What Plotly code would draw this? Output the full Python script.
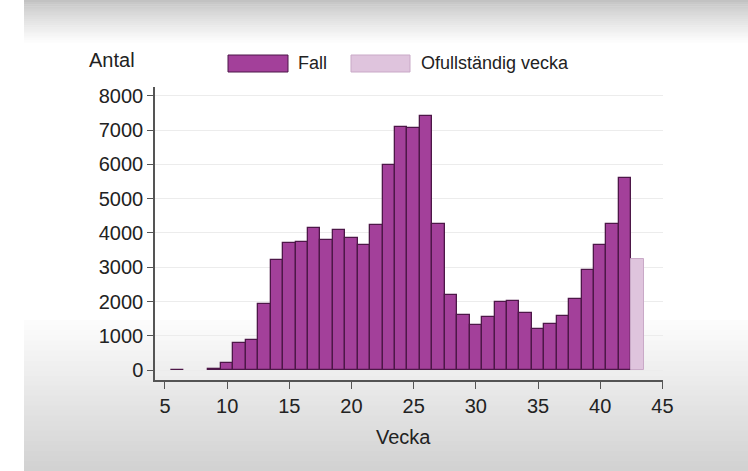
import plotly.graph_objects as go

# ---- data ----
weeks = [6, 9, 10, 11, 12, 13, 14, 15, 16, 17, 18, 19, 20, 21, 22, 23, 24, 25, 26,
         27, 28, 29, 30, 31, 32, 33, 34, 35, 36, 37, 38, 39, 40, 41, 42]
cases = [10, 20, 200, 800, 870, 1920, 3200, 3700, 3730, 4150, 3800, 4100, 3850, 3640,
         4240, 5980, 7100, 7050, 7420, 4250, 2180, 1600, 1320, 1540, 1990, 2030, 1660,
         1190, 1330, 1570, 2070, 2910, 3640, 4270, 5610]
incomplete_week = [43]
incomplete_cases = [3250]

y_ticks = [0, 1000, 2000, 3000, 4000, 5000, 6000, 7000, 8000]
x_ticks = [5, 10, 15, 20, 25, 30, 35, 40, 45]

FALL_FILL = "#a3409a"
FALL_LINE = "#4d1748"
INC_FILL = "#dfc4dd"
INC_LINE = "#c9a9c7"
FONT = "Liberation Sans, Arial, sans-serif"

W, H = 748, 471
L, R, T, B = 155, 663, 87, 380  # plot area in pixels


def px(x):
    return (x - L) / (R - L)


def py(y):
    return (B - y) / (B - T)


fig = go.Figure()
fig.add_trace(go.Bar(
    x=weeks, y=cases, width=1, name="Fall",
    marker=dict(color=FALL_FILL, line=dict(color=FALL_LINE, width=1.3)),
    showlegend=False,
))
fig.add_trace(go.Bar(
    x=incomplete_week, y=incomplete_cases, width=1, name="Ofullständig vecka",
    marker=dict(color=INC_FILL, line=dict(color=INC_LINE, width=1)),
    showlegend=False,
))

shapes = []


def mix(c1, c2, t):
    a = [int(c1[i:i + 2], 16) for i in (1, 3, 5)]
    b = [int(c2[i:i + 2], 16) for i in (1, 3, 5)]
    return "#%02x%02x%02x" % tuple(round(a[k] + (b[k] - a[k]) * t) for k in range(3))


# background gradient of the screenshot frame (white strip on the far left)
XL = 24
n = 20
for i in range(n):
    y0 = i * 42 / n
    y1 = (i + 1) * 42 / n + 0.5
    shapes.append(dict(type="rect", xref="paper", yref="paper", layer="below",
                       x0=px(XL), x1=px(W), y0=py(y1), y1=py(y0),
                       fillcolor=mix("#c2c2c2", "#fcfcfc", (i / (n - 1)) ** 0.8),
                       line_width=0))
n = 30
for i in range(n):
    y0 = 320 + i * (H - 320) / n
    y1 = 320 + (i + 1) * (H - 320) / n + 0.5
    shapes.append(dict(type="rect", xref="paper", yref="paper", layer="below",
                       x0=px(XL), x1=px(W), y0=py(y1), y1=py(y0),
                       fillcolor=mix("#fcfcfc", "#d2d2d2", i / (n - 1)), line_width=0))

# custom legend swatches
shapes.append(dict(type="rect", xref="paper", yref="paper", x0=px(228), x1=px(288),
                   y0=py(72), y1=py(55), fillcolor=FALL_FILL,
                   line=dict(color=FALL_LINE, width=1)))
shapes.append(dict(type="rect", xref="paper", yref="paper", x0=px(351), x1=px(410),
                   y0=py(72), y1=py(55), fillcolor=INC_FILL,
                   line=dict(color=INC_LINE, width=1)))

annotations = [
    dict(text="Fall", xref="paper", yref="paper", x=px(296), y=py(63),
         xanchor="left", yanchor="middle", showarrow=False,
         font=dict(family=FONT, size=18, color="#222")),
    dict(text="Ofullständig vecka", xref="paper", yref="paper", x=px(419), y=py(63),
         xanchor="left", yanchor="middle", showarrow=False,
         font=dict(family=FONT, size=18, color="#222")),
    dict(text="Antal", xref="paper", yref="paper", x=px(112), y=py(60),
         xanchor="center", yanchor="middle", showarrow=False,
         font=dict(family=FONT, size=20, color="#222")),
    dict(text="Vecka", xref="paper", yref="paper", x=px(403), y=py(437),
         xanchor="center", yanchor="middle", showarrow=False,
         font=dict(family=FONT, size=20, color="#222")),
]

fig.update_layout(
    width=W, height=H,
    margin=dict(l=L, r=W - R, t=T, b=H - B, pad=0),
    paper_bgcolor="white",
    plot_bgcolor="rgba(0,0,0,0)",
    bargap=0,
    shapes=shapes,
    annotations=annotations,
    font=dict(family=FONT, size=20, color="#222"),
    xaxis=dict(range=[4.2, 45.05], tickvals=x_ticks, ticktext=[str(v) for v in x_ticks],
               showgrid=False, zeroline=False, showline=True, linecolor="#555",
               linewidth=1.5, ticks="outside", ticklen=7, tickwidth=1.2,
               tickcolor="#555", tickfont=dict(size=20, color="#222")),
    yaxis=dict(range=[-290, 8260], tickvals=y_ticks, ticktext=[str(v) for v in y_ticks],
               showgrid=True, gridcolor="#ececec", gridwidth=1, zeroline=False,
               showline=True, linecolor="#555", linewidth=1.5, ticks="outside",
               ticklen=6, tickwidth=1.2, tickcolor="#555",
               tickfont=dict(size=20, color="#222")),
)

fig.write_html("out.html", config={"displayModeBar": False},
               post_script="document.body.style.margin='0';")
